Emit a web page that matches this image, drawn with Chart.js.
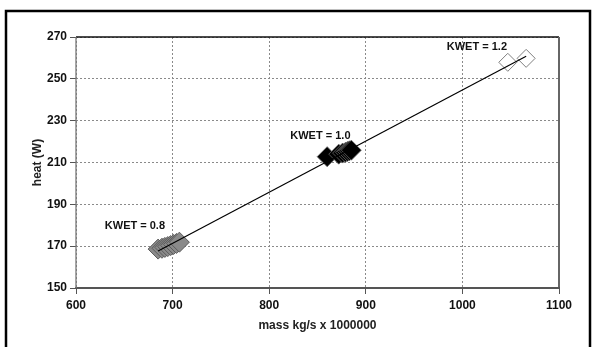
<!DOCTYPE html>
<html>
<head>
<meta charset="utf-8">
<script src="https://cdn.jsdelivr.net/npm/chart.js@4/dist/chart.umd.min.js"></script>
<style>
  html,body{margin:0;padding:0;background:#fff;}
  canvas{display:block;}
</style>
</head>
<body>
<canvas id="heatChart" width="595" height="347"></canvas>
<script>
// mass flow (kg/s x 1e6) vs heat (W), one group per KWET setting
const kwet08Mass = [685, 689, 692, 695, 698, 701, 704, 707];
const kwet08Heat = [168.6, 169.0, 169.4, 169.8, 170.3, 170.8, 171.3, 171.9];
const kwet10Mass = [860, 872, 876, 879, 881, 883, 885];
const kwet10Heat = [212.8, 214.0, 214.5, 214.9, 215.3, 215.6, 215.9];
const kwet12Mass = [1047, 1066];
const kwet12Heat = [257.9, 259.8];
// fitted line end points
const fitMass = [685, 1066];
const fitHeat = [167.7, 260.8];
// group captions, anchored in data units
const captionText = ["KWET = 0.8", "KWET = 1.0", "KWET = 1.2"];
const captionMass = [661, 853, 1015];
const captionHeat = [179.6, 222.7, 265.2];

const xTicks = [600, 700, 800, 900, 1000, 1100];
const yTicks = [150, 170, 190, 210, 230, 250, 270];

const pts = (xs, ys) => xs.map((x, i) => ({x: x, y: ys[i]}));

const frame = {
  id: "frame",
  beforeDraw(chart){
    const c = chart.ctx;
    c.save(); c.fillStyle = "#fff"; c.fillRect(0, 0, chart.width, chart.height); c.restore();
  },
  afterDraw(chart){
    const c = chart.ctx, a = chart.chartArea;
    c.save();
    // plot box
    c.lineWidth = 1.5; c.strokeStyle = "#111";
    c.beginPath(); c.moveTo(a.left, a.top); c.lineTo(a.right, a.top); c.stroke();
    c.lineWidth = 2; c.strokeStyle = "#666";
    c.beginPath(); c.moveTo(a.right, a.top); c.lineTo(a.right, a.bottom); c.stroke();
    c.strokeStyle = "#555";
    c.beginPath(); c.moveTo(a.left - 1, a.bottom); c.lineTo(a.right + 1, a.bottom); c.stroke();
    c.lineWidth = 1.3; c.strokeStyle = "#777";
    c.beginPath(); c.moveTo(a.left, a.top); c.lineTo(a.left, a.bottom); c.stroke();
    // outer border
    c.lineWidth = 2.5; c.strokeStyle = "#000";
    c.beginPath(); c.moveTo(6, 400); c.lineTo(6, 11); c.lineTo(590, 11); c.lineTo(590, 400); c.stroke();
    // captions
    const xs = chart.scales.x, ys = chart.scales.y;
    c.fillStyle = "#111"; c.font = "bold 11px 'Liberation Sans', Arial, sans-serif";
    c.textAlign = "center"; c.textBaseline = "middle";
    captionText.forEach((t, i) => {
      c.fillText(t, xs.getPixelForValue(captionMass[i]), ys.getPixelForValue(captionHeat[i]));
    });
    c.restore();
  }
};

const tickFont = {family: "'Liberation Sans', Arial, sans-serif", size: 12, weight: "bold"};

new Chart(document.getElementById("heatChart"), {
  type: "scatter",
  data: {
    datasets: [
      {type: "line", data: pts(fitMass, fitHeat), borderColor: "#000", borderWidth: 1.2,
       pointRadius: 0, fill: false},
      {data: pts(kwet08Mass, kwet08Heat), pointStyle: "rectRot", pointRadius: 10,
       backgroundColor: "#8a8a8a", borderColor: "#5c5c5c", borderWidth: 1},
      {data: pts(kwet10Mass, kwet10Heat), pointStyle: "rectRot", pointRadius: 10,
       backgroundColor: "#000", borderColor: "#666", borderWidth: 0.8},
      {data: pts(kwet12Mass, kwet12Heat), pointStyle: "rectRot", pointRadius: 9,
       backgroundColor: "#fff", borderColor: "#808080", borderWidth: 1}
    ]
  },
  options: {
    responsive: false,
    animation: false,
    devicePixelRatio: 1,
    layout: {padding: {left: 30, top: 37, right: 36, bottom: 9}},
    plugins: {legend: {display: false}, tooltip: {enabled: false}},
    scales: {
      x: {
        type: "linear", min: 600, max: 1100,
        afterBuildTicks: s => { s.ticks = xTicks.map(v => ({value: v})); },
        afterFit: s => { s.height = 50; },
        ticks: {font: tickFont, color: "#111", padding: 4, maxRotation: 0, callback: v => String(v)},
        grid: {color: "#8a8a8a", lineWidth: 1, tickLength: 6, tickColor: "#555", tickBorderDash: []},
        border: {display: false, dash: [2, 2]},
        title: {display: true, text: "mass kg/s x 1000000", color: "#222", font: tickFont,
                padding: {top: 0, bottom: 5}}
      },
      y: {
        type: "linear", min: 150, max: 270,
        afterBuildTicks: s => { s.ticks = yTicks.map(v => ({value: v})); },
        afterFit: s => { s.width = 46; },
        ticks: {font: tickFont, color: "#111", padding: 3, callback: v => String(v)},
        grid: {color: "#8a8a8a", lineWidth: 1, tickLength: 6, tickColor: "#555", tickBorderDash: []},
        border: {display: false, dash: [2, 2]},
        title: {display: true, text: "heat (W)", color: "#222", font: tickFont,
                padding: {top: 0, bottom: 0}}
      }
    }
  },
  plugins: [frame]
});
</script>
</body>
</html>
